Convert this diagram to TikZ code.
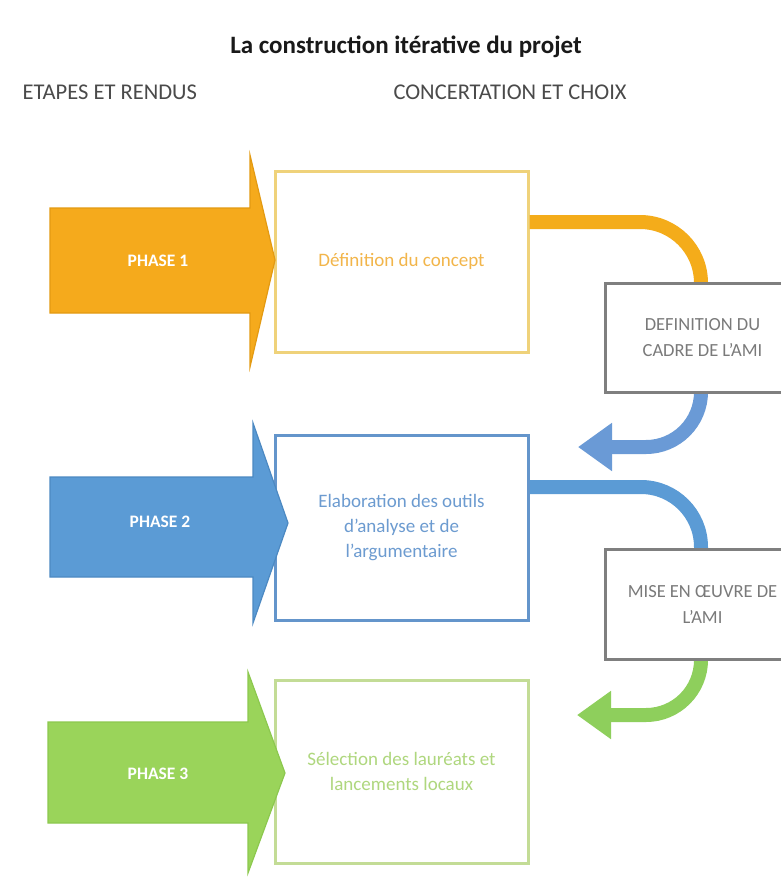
\documentclass[tikz,border=0pt]{standalone}
\usepackage{fontspec}
\setmainfont{Carlito}
\usetikzlibrary{arrows.meta}
\definecolor{orA}{HTML}{F5AA1C}
\definecolor{orD}{HTML}{E39A12}
\definecolor{blA}{HTML}{5B9BD5}
\definecolor{blD}{HTML}{4C89C2}
\definecolor{grA}{HTML}{9AD45A}
\definecolor{grD}{HTML}{8CC84E}
\definecolor{boxOr}{HTML}{EFD27A}
\definecolor{boxBl}{HTML}{6495CB}
\definecolor{boxGr}{HTML}{C3DC96}
\definecolor{txtOr}{HTML}{F2B54A}
\definecolor{txtBl}{HTML}{6C9BD0}
\definecolor{txtGr}{HTML}{AFD77E}
\definecolor{grayB}{HTML}{7F7F7F}
\definecolor{grayT}{HTML}{7A7A7A}
\definecolor{headT}{HTML}{4A4A4A}
\definecolor{cOr}{HTML}{F4AC1A}
\definecolor{cBl}{HTML}{5B9BD5}
\definecolor{cBl2}{HTML}{6A9AD6}
\definecolor{cGr}{HTML}{8ECF5C}
\tikzset{
  stagebox/.style={draw, line width=3pt, fill=white, minimum width=253pt, align=center,
    font=\fontsize{19}{25}\selectfont},
  graybox/.style={draw=grayB, line width=3pt, fill=white, minimum width=195pt, align=center,
    text=grayT, font=\fontsize{18.5}{26}\selectfont},
  phaselbl/.style={text=white, font=\bfseries\fontsize{17.5}{20}\selectfont},
  conn/.style={line width=14pt},
  conntip/.style={-{Triangle[length=34pt,width=46pt]}},
  heading/.style={text=headT, anchor=west, font=\fontsize{22.5}{26}\selectfont}
}
\begin{document}
\begin{tikzpicture}[x=1pt,y=-1pt]
\clip (0,0) rectangle (781,895);
\fill[white] (0,0) rectangle (781,895);

% titles
\node[font=\bfseries\fontsize{25}{30}\selectfont, text=black!90] (title) at (406,47) {La construction itérative du projet};
\node[heading] (h1) at (19,92) {ETAPES ET RENDUS};
\node[heading] (h2) at (390,92) {CONCERTATION ET CHOIX};

% coordinates for connector ends
\coordinate (t1) at (578,447);
\coordinate (t2) at (577,715);

% stage boxes
\node[stagebox, draw=boxOr, text=txtOr, minimum height=181pt] (b1) at (401.5,261.5) {Définition du concept};
\node[stagebox, draw=boxBl, text=txtBl, minimum height=185pt] (b2) at (401.5,527.5) {Elaboration des outils\\d'analyse et de\\l'argumentaire};
\node[stagebox, draw=boxGr, text=txtGr, minimum height=183pt] (b3) at (401.5,771.5) {Sélection des lauréats et\\lancements locaux};

% connectors
\draw[conn, cOr, rounded corners=61pt] (b1.east |- 0,222) -- (701,222) -- (701,310);
\draw[conn, cBl2, rounded corners=55pt, conntip] (701,370) -- (701,447) -- (t1);
\draw[conn, cBl, rounded corners=60pt] (b2.east |- 0,487) -- (701,487) -- (701,575);
\draw[conn, cGr, rounded corners=55pt, conntip] (701,635) -- (701,715) -- (t2);

% gray boxes
\node[graybox, minimum height=109pt] (g1) at (702.5,337.5) {DEFINITION DU\\CADRE DE L'AMI};
\node[graybox, minimum height=110pt] (g2) at (702.5,604) {MISE EN ŒUVRE DE\\L'AMI};

% phase arrows
\fill[orA, draw=orD, line width=1.2pt] (50,208) -- (250,208) -- (250,155) -- (275,260) -- (250,367) -- (250,313) -- (50,313) -- cycle;
\fill[blA, draw=blD, line width=1.2pt] (50,477) -- (253,477) -- (253,423) -- (288,523) -- (253,623) -- (253,577) -- (50,577) -- cycle;
\fill[grA, draw=grD, line width=1.2pt] (48,722) -- (248,722) -- (248,672) -- (285,773) -- (248,873) -- (248,823) -- (48,823) -- cycle;

\node[phaselbl] (p1) at (158,261) {PHASE 1};
\node[phaselbl] (p2) at (160,522) {PHASE 2};
\node[phaselbl] (p3) at (158,774) {PHASE 3};
\end{tikzpicture}
\end{document}
